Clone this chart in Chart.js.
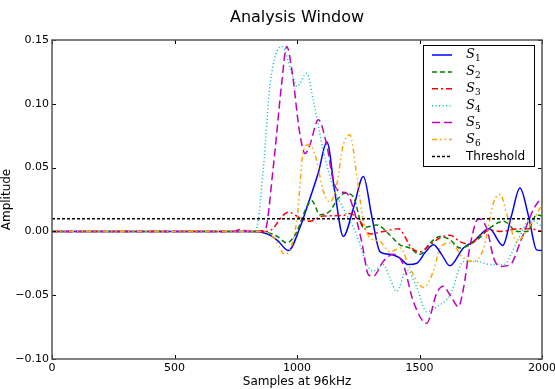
<!DOCTYPE html>
<html>
<head>
<meta charset="utf-8">
<script src="https://cdn.jsdelivr.net/npm/chart.js@4/dist/chart.umd.min.js"></script>
<style>
  html, body { margin: 0; padding: 0; background: #fff; }
  canvas { display: block; }
</style>
</head>
<body>
<canvas id="chart" width="555" height="389"></canvas>
<script>
// values (samples, amplitude)
const s1x = [0, 820, 880, 920, 965, 1012, 1046, 1087, 1122, 1155, 1189, 1230, 1271, 1305, 1339, 1380, 1420, 1454, 1489, 1525, 1557, 1590, 1624, 1679, 1720, 1785, 1840, 1875, 1910, 1945, 1978, 2000];
const s1y = [0, 0, -0.002, -0.007, -0.015, 0.003, 0.022, 0.046, 0.070, 0.030, -0.004, 0.018, 0.043, 0.012, -0.016, -0.018, -0.021, -0.026, -0.025, -0.016, -0.0105, -0.018, -0.027, -0.013, -0.008, 0.002, -0.011, 0.012, 0.034, 0.012, -0.0145, -0.015];

const s2x = [0, 850, 920, 958, 1000, 1030, 1060, 1094, 1135, 1165, 1196, 1230, 1271, 1325, 1380, 1420, 1460, 1502, 1544, 1584, 1624, 1665, 1735, 1789, 1844, 1898, 1939, 1978, 2000];
const s2y = [0, 0, -0.004, -0.009, 0, 0.015, 0.024, 0.013, 0.016, 0.025, 0.030, 0.027, 0.003, 0.005, -0.003, -0.0105, -0.013, -0.018, -0.009, -0.004, -0.0065, -0.013, -0.0065, 0.003, 0.008, 0, 0, 0.013, 0.012];

const s3x = [0, 880, 910, 931, 966, 1016, 1053, 1107, 1189, 1216, 1257, 1298, 1352, 1414, 1468, 1502, 1543, 1584, 1625, 1665, 1706, 1747, 1788, 1829, 1910, 1951, 2000];
const s3y = [0, 0, 0.004, 0.010, 0.015, 0.010, 0.008, 0.012, 0.0125, 0.014, 0.008, -0.002, 0, 0.002, -0.013, -0.016, -0.0105, -0.005, -0.003, -0.008, -0.010, -0.003, 0.001, 0, 0.002, 0.002, 0];

const s4x = [0, 820, 836, 863, 890, 937, 985, 999, 1040, 1067, 1108, 1149, 1189, 1244, 1285, 1312, 1352, 1380, 1407, 1448, 1489, 1529, 1571, 1625, 1680, 1735, 1789, 1844, 1898, 1952, 2000];
const s4y = [0, 0, 0.003, 0.050, 0.115, 0.145, 0.120, 0.1135, 0.124, 0.102, 0.063, 0.034, 0.018, -0.003, -0.026, -0.031, -0.026, -0.037, -0.047, -0.030, -0.044, -0.063, -0.059, -0.050, -0.0235, -0.0235, -0.026, -0.026, -0.008, 0.009, 0.004];

const s5x = [0, 740, 770, 800, 869, 903, 937, 958, 978, 1012, 1033, 1053, 1087, 1121, 1149, 1176, 1203, 1230, 1264, 1292, 1312, 1352, 1393, 1434, 1475, 1529, 1571, 1597, 1625, 1659, 1680, 1707, 1741, 1775, 1803, 1830, 1871, 1912, 1967, 2000];
const s5y = [0, 0, 0.0015, 0, 0.001, 0.050, 0.115, 0.145, 0.128, 0.076, 0.061, 0.068, 0.0875, 0.068, 0.039, 0.031, 0.030, 0.018, -0.008, -0.034, -0.035, -0.0235, -0.018, -0.026, -0.055, -0.072, -0.048, -0.043, -0.050, -0.059, -0.044, -0.0105, 0.010, 0.002, -0.021, -0.0275, -0.026, -0.008, 0.018, 0.027];

const s6x = [0, 860, 910, 951, 999, 1026, 1047, 1074, 1108, 1135, 1162, 1189, 1216, 1244, 1271, 1298, 1339, 1380, 1421, 1461, 1516, 1557, 1584, 1625, 1680, 1720, 1762, 1803, 1830, 1857, 1898, 1925, 1967, 2000];
const s6y = [0, 0, -0.006, -0.018, 0.008, 0.063, 0.068, 0.060, 0.031, 0.023, 0.0365, 0.068, 0.0757, 0.044, 0.008, -0.005, -0.008, -0.016, -0.013, -0.029, -0.044, -0.031, -0.013, -0.009, -0.021, -0.0235, -0.013, 0.023, 0.029, 0.013, -0.008, -0.003, 0.010, 0.021];

const thresholdX = [0, 2000];
const thresholdY = [0.01, 0.01];

const xTicks = [0, 500, 1000, 1500, 2000];
const yTicks = [-0.10, -0.05, 0.00, 0.05, 0.10, 0.15];

const FONT = "'DejaVu Sans', sans-serif";

function pts(xs, ys) {
  return xs.map((x, i) => ({ x: x, y: ys[i] }));
}

const series = [
  { label: "S", sub: "1", xs: s1x, ys: s1y, color: "#0000ff", dash: [] },
  { label: "S", sub: "2", xs: s2x, ys: s2y, color: "#008000", dash: [5, 3] },
  { label: "S", sub: "3", xs: s3x, ys: s3y, color: "#ff0000", dash: [6, 3, 2, 3] },
  { label: "S", sub: "4", xs: s4x, ys: s4y, color: "#00bfbf", dash: [1, 2.5] },
  { label: "S", sub: "5", xs: s5x, ys: s5y, color: "#bf00bf", dash: [8, 4] },
  { label: "S", sub: "6", xs: s6x, ys: s6y, color: "#ffa500", dash: [5, 3, 1.5, 3, 1.5, 3] },
  { label: "Threshold", sub: "", xs: thresholdX, ys: thresholdY, color: "#000000", dash: [3, 2] }
];

const datasets = series.map((s, i) => ({
  label: s.label + s.sub,
  data: pts(s.xs, s.ys),
  borderColor: s.color,
  borderWidth: 1.5,
  borderDash: s.dash,
  pointRadius: 0,
  fill: false,
  cubicInterpolationMode: "monotone",
  order: 10 - i
}));

// frame, inward ticks on all four sides, title and legend
const decor = {
  id: "decor",
  afterDatasetsDraw(chart) {
    const ctx = chart.ctx;
    const a = chart.chartArea;
    const xs = chart.scales.x;
    const ys = chart.scales.y;
    ctx.save();

    ctx.strokeStyle = "#000";
    ctx.lineWidth = 1;
    ctx.setLineDash([]);
    xTicks.forEach(v => {
      const px = Math.round(xs.getPixelForValue(v)) + 0.5;
      ctx.beginPath();
      ctx.moveTo(px, a.bottom); ctx.lineTo(px, a.bottom - 4);
      ctx.moveTo(px, a.top); ctx.lineTo(px, a.top + 4);
      ctx.stroke();
    });
    yTicks.forEach(v => {
      const py = Math.round(ys.getPixelForValue(v)) + 0.5;
      ctx.beginPath();
      ctx.moveTo(a.left, py); ctx.lineTo(a.left + 4, py);
      ctx.moveTo(a.right, py); ctx.lineTo(a.right - 4, py);
      ctx.stroke();
    });

    ctx.strokeStyle = "#555";
    ctx.lineWidth = 1.5;
    ctx.strokeRect(a.left, a.top, a.right - a.left, a.bottom - a.top);

    // title
    ctx.fillStyle = "#000";
    ctx.font = "16px " + FONT;
    ctx.textAlign = "center";
    ctx.textBaseline = "middle";
    ctx.fillText("Analysis Window", (a.left + a.right) / 2, 18);

    // legend box
    const bx = 423.5, by = 45.5, bw = 111, bh = 121;
    ctx.fillStyle = "#fff";
    ctx.fillRect(bx, by, bw, bh);
    ctx.strokeStyle = "#000";
    ctx.lineWidth = 1;
    ctx.strokeRect(bx, by, bw, bh);

    series.forEach((s, i) => {
      const y = 55 + i * 16.9;
      ctx.strokeStyle = s.color;
      ctx.lineWidth = 1.5;
      ctx.setLineDash(s.dash);
      ctx.beginPath();
      ctx.moveTo(432, y); ctx.lineTo(452, y);
      ctx.stroke();
      ctx.setLineDash([]);
      ctx.fillStyle = "#000";
      ctx.textAlign = "left";
      ctx.textBaseline = "middle";
      if (s.sub) {
        ctx.font = "italic 13px 'DejaVu Serif', serif";
        ctx.fillText(s.label, 466, y);
        const w = ctx.measureText(s.label).width;
        ctx.font = "9px 'DejaVu Serif', serif";
        ctx.fillText(s.sub, 466 + w, y + 4);
      } else {
        ctx.font = "12px " + FONT;
        ctx.fillText(s.label, 466, y);
      }
    });
    ctx.restore();
  }
};

new Chart(document.getElementById("chart").getContext("2d"), {
  type: "line",
  data: { datasets: datasets },
  options: {
    responsive: false,
    animation: false,
    layout: { padding: { left: 0, right: 13, top: 40, bottom: 0 } },
    plugins: {
      legend: { display: false },
      tooltip: { enabled: false },
      title: { display: false }
    },
    scales: {
      x: {
        type: "linear",
        min: 0,
        max: 2000,
        afterBuildTicks: s => { s.ticks = xTicks.map(v => ({ value: v })); },
        afterFit: s => { s.height = 30; s.paddingLeft = 0; s.paddingRight = 0; },
        grid: { display: false, drawTicks: false },
        border: { display: false },
        ticks: { color: "#000", font: { family: FONT, size: 11 }, padding: 3, maxRotation: 0, callback: v => String(v) },
        title: { display: true, text: "Samples at 96kHz", color: "#000", font: { family: FONT, size: 12 }, padding: { top: 0, bottom: 0 } }
      },
      y: {
        type: "linear",
        min: -0.10,
        max: 0.15,
        afterBuildTicks: s => { s.ticks = yTicks.map(v => ({ value: v })); },
        afterFit: s => { s.width = 52; s.paddingTop = 0; s.paddingBottom = 0; },
        grid: { display: false, drawTicks: false },
        border: { display: false },
        ticks: {
          color: "#000",
          font: { family: FONT, size: 11 },
          padding: 3,
          callback: v => (Math.abs(v) < 1e-9 ? "0.00" : v.toFixed(2).replace("-", "\u2212"))
        },
        title: { display: true, text: "Amplitude", color: "#000", font: { family: FONT, size: 12 }, padding: { top: 0, bottom: 2 } }
      }
    }
  },
  plugins: [decor]
});
</script>
</body>
</html>
